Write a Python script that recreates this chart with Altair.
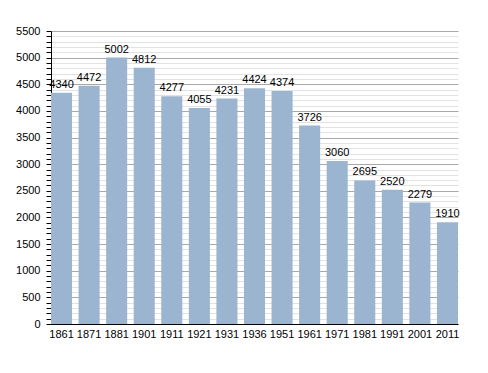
import altair as alt
import pandas as pd

years = ["1861", "1871", "1881", "1901", "1911", "1921", "1931", "1936",
         "1951", "1961", "1971", "1981", "1991", "2001", "2011"]
population = [4340, 4472, 5002, 4812, 4277, 4055, 4231, 4424,
              4374, 3726, 3060, 2695, 2520, 2279, 1910]

df = pd.DataFrame({"year": years, "pop": population})

x = alt.X("year:N", sort=years, title=None,
          scale=alt.Scale(paddingInner=0.236, paddingOuter=0),
          axis=alt.Axis(labelAngle=0, domainColor="black", ticks=False,
                        grid=False,
                        labelFont="Liberation Sans", labelFontSize=11,
                        labelColor="black", labelPadding=4))
y = alt.Y("pop:Q", title=None,
          scale=alt.Scale(domain=[0, 5500], nice=False, zero=True),
          axis=alt.Axis(values=list(range(0, 5501, 100)),
                        labelExpr="datum.value % 500 === 0 ? datum.label : ''",
                        labelOverlap=False,
                        format="d", grid=True,
                        gridColor=alt.condition("datum.value % 500 === 0",
                                                alt.value("#a8a8a8"),
                                                alt.value("#e2e2e2")),
                        domainColor="black", tickColor="black", tickSize=5,
                        labelFont="Liberation Sans", labelFontSize=11,
                        labelColor="black", labelPadding=6))

base = alt.Chart(df).encode(x=x, y=y)
bars = base.mark_bar(color="#9bb4cf")
labels = base.mark_text(baseline="alphabetic", dy=-5,
                        font="Liberation Sans", fontSize=11,
                        color="black").encode(text="pop:Q")

chart = alt.layer(bars, labels).properties(
    width=407, height=293,
    autosize=alt.AutoSizeParams(type="none"),
    padding={"left": 43, "top": 23, "right": 20, "bottom": 40},
).configure_view(stroke=None)

chart.save("out.html", embed_options={"renderer": "svg", "actions": False})
